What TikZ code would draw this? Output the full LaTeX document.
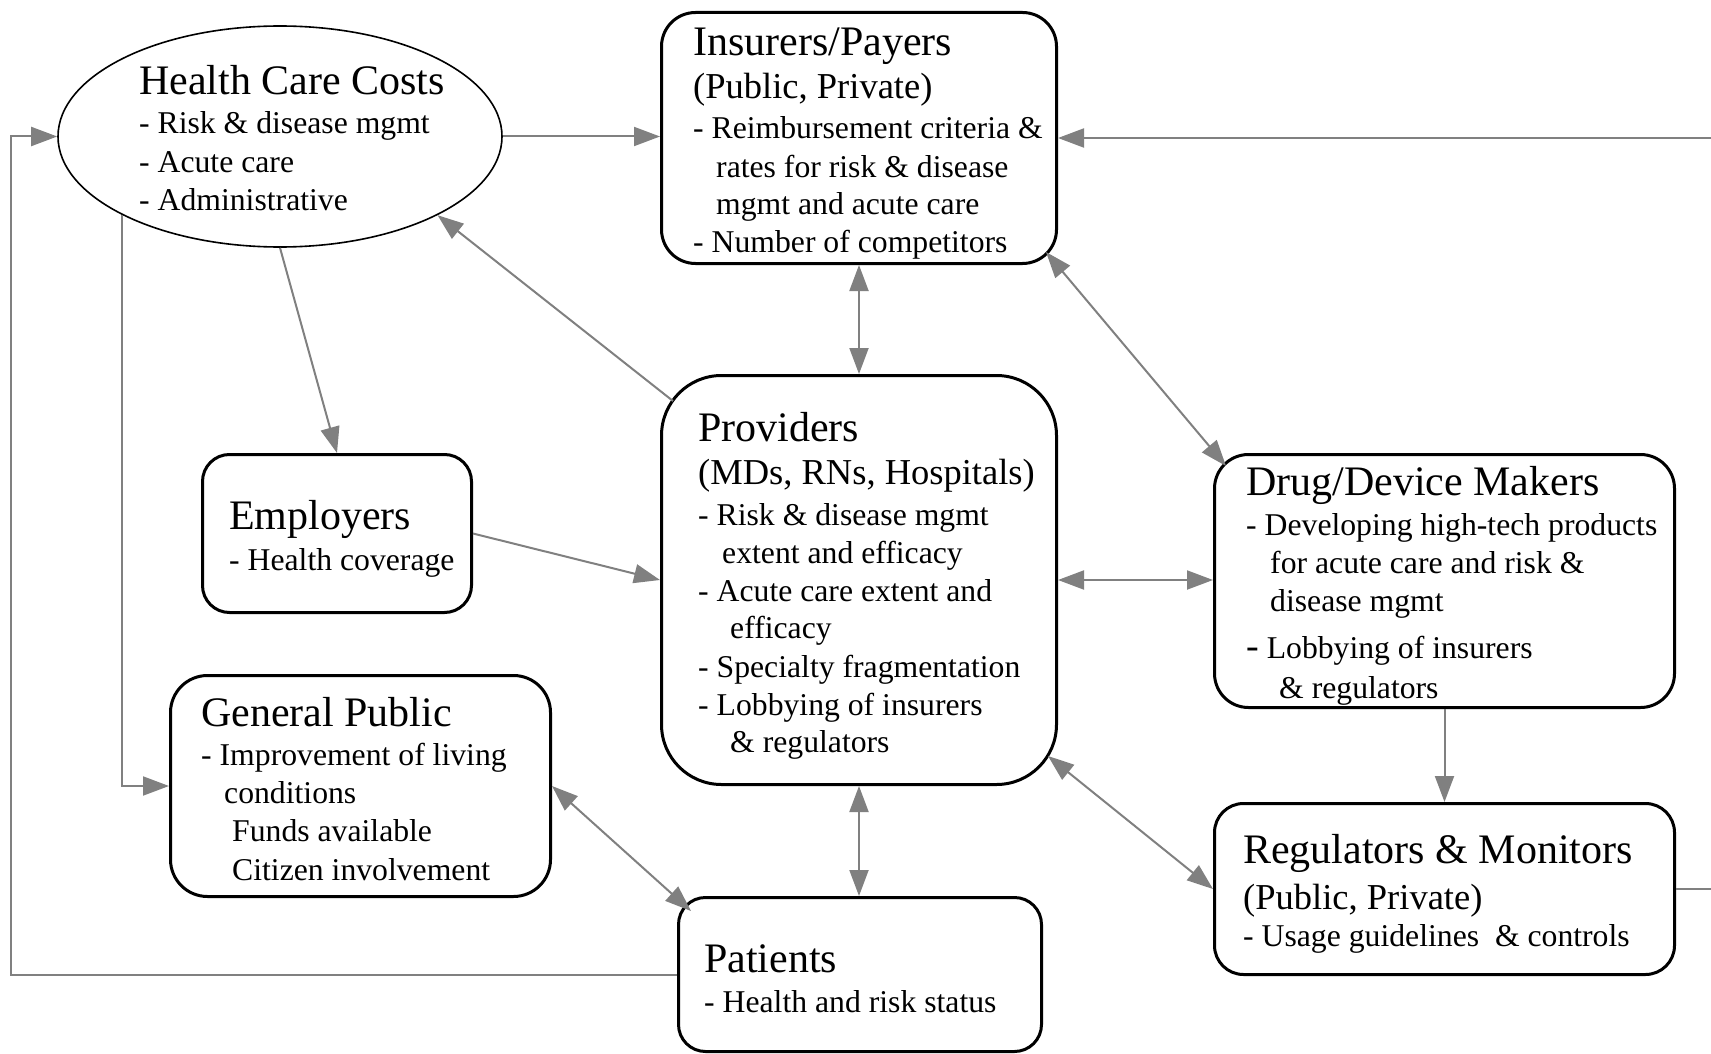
\documentclass[tikz,border=0pt]{standalone}
\usepackage{fontspec}
\setmainfont{Liberation Serif}
\usetikzlibrary{arrows.meta,shapes.geometric,calc}
\definecolor{cgray}{RGB}{128,128,128}
\tikzset{
  box/.style={draw=black, line width=3pt, anchor=north west, inner sep=0pt, fill=white},
  ttl/.style={anchor=base west, inner sep=0pt, font=\fontsize{42}{46}\selectfont},
  sbt/.style={anchor=base west, inner sep=0pt, font=\fontsize{36.5}{40}\selectfont},
  bd/.style={anchor=base west, inner sep=0pt, font=\fontsize{31.7}{38}\selectfont},
  conn/.style={draw=cgray, line width=2pt},
  tip/.style={-{Triangle[length=26pt,width=19pt]}},
  dbl/.style={{Triangle[length=26pt,width=19pt]}-{Triangle[length=26pt,width=19pt]}},
}
\begin{document}
\begin{tikzpicture}[x=1pt,y=-1pt]
\useasboundingbox (0,0) rectangle (1711,1054);
% boxes
\node[draw=black, line width=1.6pt, ellipse, minimum width=444pt, minimum height=221pt, inner sep=0pt] (hcc) at (280,136.5) {};
\node[box, rounded corners=34pt, minimum width=395pt, minimum height=251pt] (ins) at (660,11) {};
\node[box, rounded corners=60pt, minimum width=395pt, minimum height=409pt] (prov) at (660,374) {};
\node[box, rounded corners=27pt, minimum width=269pt, minimum height=158pt] (emp) at (201,453) {};
\node[box, rounded corners=37pt, minimum width=380pt, minimum height=221pt] (gp) at (169,674) {};
\node[box, rounded corners=27pt, minimum width=363pt, minimum height=154pt] (pat) at (677,896) {};
\node[box, rounded corners=34pt, minimum width=460pt, minimum height=253pt] (drug) at (1213,453) {};
\node[box, rounded corners=29pt, minimum width=460pt, minimum height=171pt] (reg) at (1213,802) {};
\coordinate (lft) at (11,0);
% texts
\node[ttl] (hccT) at (139,95) {Health Care Costs};
\node[bd] (hcc1) at (139,134) {- Risk \& disease mgmt};
\node[bd] (hcc2) at (139,172) {- Acute care};
\node[bd] (hcc3) at (139,210) {- Administrative};
\node[ttl] (insT) at (693,56) {Insurers/Payers};
\node[sbt] (insS) at (693,99) {(Public, Private)};
\node[bd] (ins1) at (693,139) {- Reimbursement criteria \&};
\node[bd] (ins2) at (716,177) {rates for risk \& disease};
\node[bd] (ins3) at (716,214) {mgmt and acute care};
\node[bd] (ins4) at (693,252) {- Number of competitors};
\node[ttl] (provT) at (698,441) {Providers};
\node[sbt] (provS) at (698,484) {(MDs, RNs, Hospitals)};
\node[bd] (prov1) at (698,525) {- Risk \& disease mgmt};
\node[bd] (prov2) at (722,563) {extent and efficacy};
\node[bd] (prov3) at (698,601) {- Acute care extent and};
\node[bd] (prov4) at (730,638) {efficacy};
\node[bd] (prov5) at (698,677) {- Specialty fragmentation};
\node[bd] (prov6) at (698,715) {- Lobbying of insurers};
\node[bd] (prov7) at (730,752) {\& regulators};
\node[ttl] (empT) at (229,529) {Employers};
\node[bd] (emp1) at (229,570) {- Health coverage};
\node[ttl] (gpT) at (201,726) {General Public};
\node[bd] (gp1) at (201,765) {- Improvement of living};
\node[bd] (gp2) at (224,803) {conditions};
\node[bd] (gp3) at (232,841) {Funds available};
\node[bd] (gp4) at (232,880) {Citizen involvement};
\node[ttl] (patT) at (704,972) {Patients};
\node[bd] (pat1) at (704,1012) {- Health and risk status};
\node[ttl] (drugT) at (1246,495) {Drug/Device Makers};
\node[bd] (drug1) at (1246,535) {- Developing high-tech products};
\node[bd] (drug2) at (1270,573) {for acute care and risk \&};
\node[bd] (drug3) at (1270,611) {disease mgmt};
\node[bd] (drug4) at (1246,658) {{\fontsize{38}{40}\selectfont -} Lobbying of insurers};
\node[bd] (drug5) at (1279,698) {\& regulators};
\node[ttl] (regT) at (1243,863) {Regulators \& Monitors};
\node[sbt] (regS) at (1243,909) {(Public, Private)};
\node[bd] (reg1) at (1243,946) {- Usage guidelines \ \& controls};
% connectors
\draw[conn,tip] (hcc.east) -- (hcc.east -| ins.west);
\draw[conn,tip] (reg.east) -- ++(80,0) |- (ins.east);
\draw[conn,tip] (pat.west) -- (pat.west -| lft) |- (hcc.west);
\draw[conn,tip] (hcc.south west) |- (gp.west);
\draw[conn,tip] (hcc.south) -- (emp.north);
\draw[conn,tip] ([xshift=13pt,yshift=-27pt]prov.north west) -- (hcc.south east);
\draw[conn,tip] (emp.east) -- (prov.west);
\draw[conn,dbl] (ins.south) -- (prov.north);
\draw[conn,dbl] ([xshift=-12pt,yshift=13pt]ins.south east) -- ([xshift=13pt,yshift=-13pt]drug.north west);
\draw[conn,dbl] (prov.east) -- (prov.east -| drug.west);
\draw[conn,tip] (drug.south) -- (reg.north);
\draw[conn,dbl] ([xshift=-10pt,yshift=30pt]prov.south east) -- (reg.west);
\draw[conn,dbl] (prov.south) -- (prov.south |- pat.north);
\draw[conn,dbl] (gp.east) -- ([xshift=14pt,yshift=-15pt]pat.north west);
\end{tikzpicture}
\end{document}
